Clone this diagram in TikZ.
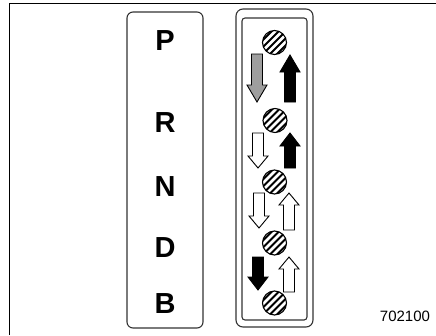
\documentclass[tikz,border=0pt]{standalone}
\usepackage{fontspec}
\setmainfont{Liberation Sans}
\newcommand\blkarrow[6]{% cx, tail, tip, headlen, fill, name
  \pgfmathsetmacro\dd{(#3>#2)?1:-1}
  \pgfmathsetmacro\hb{#3-\dd*#4}
  \draw[arrowshape, fill=#5] (#1-5.5,-#2) -- (#1-5.5,-\hb) -- (#1-10,-\hb) -- (#1,-#3) -- (#1+10,-\hb) -- (#1+5.5,-\hb) -- (#1+5.5,-#2) -- cycle;
  \coordinate (#6) at (#1,-#3);
}
\newcommand\hatchcirc[3]{% cx, cy, name
  \begin{scope}
    \clip (#1,-#2) circle (12);
    \fill[white] (#1,-#2) circle (12);
    \foreach \k in {-28,-21,...,28} {
      \draw[line width=2] (#1+\k-16,-#2-16) -- (#1+\k+16,-#2+16);
    }
  \end{scope}
  \node[circle, draw, line width=1.1, minimum size=24, inner sep=0] (#3) at (#1,-#2) {};
}
\begin{document}
\begin{tikzpicture}[x=1pt,y=1pt,
  frameline/.style={line width=1.4, black},
  boxline/.style={line width=1.1, black!80},
  arrowshape/.style={line width=0.9, black, line join=miter},
  gearletter/.style={font=\fontsize{29}{29}\selectfont\bfseries, inner sep=0},
  codelabel/.style={font=\fontsize{15}{15}\selectfont, inner sep=0}]
\useasboundingbox (0,0) rectangle (436,-335);
\fill[white] (0,0) rectangle (436,-335);
% frame (top and left only)
\coordinate (ftl) at (9.5,-3.5);
\coordinate (ftr) at (436,-3.5);
\coordinate (fbl) at (9.5,-335);
\draw[frameline] (fbl) -- (ftl) -- (ftr);
% left panel
\draw[boxline, rounded corners=6] (127,-12) rectangle (203,-328);
\node[gearletter] (P) at (165,-40.5) {P};
\node[gearletter] (R) at (165,-123) {R};
\node[gearletter] (N) at (165,-187) {N};
\node[gearletter] (D) at (165,-248) {D};
\node[gearletter] (B) at (165,-303.5) {B};
% right panel
\draw[boxline, rounded corners=7] (236,-9) rectangle (313,-327);
\draw[boxline, rounded corners=3] (242,-18) rectangle (307,-320);
% circles
\hatchcirc{274.5}{42.5}{c1}
\hatchcirc{275}{120.5}{c2}
\hatchcirc{274.5}{182}{c3}
\hatchcirc{274.5}{243}{c4}
\hatchcirc{274.5}{303}{c5}
% arrows
\blkarrow{257}{54}{102}{17}{black!38}{a1}
\blkarrow{290}{102}{55}{17}{black}{a2}
\blkarrow{258}{133}{168}{12}{white}{a3}
\blkarrow{290}{168}{133}{13}{black}{a4}
\blkarrow{259}{193}{228}{12}{white}{a5}
\blkarrow{289}{230}{193}{12}{white}{a6}
\blkarrow{258}{257}{290}{13}{black}{a7}
\blkarrow{289}{292}{257}{12}{white}{a8}
% code
\node[codelabel] (code) at (405,-316) {702100};
\end{tikzpicture}
\end{document}
